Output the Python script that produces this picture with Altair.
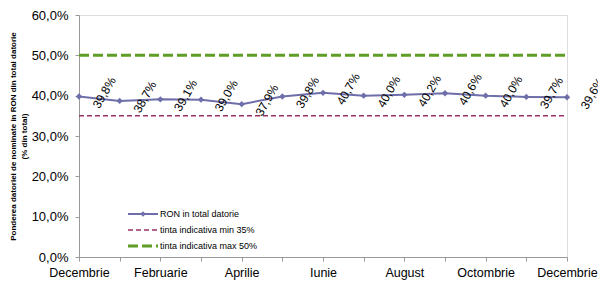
import altair as alt
import pandas as pd

months = ["Decembrie", "Ianuarie", "Februarie", "Martie", "Aprilie", "Mai", "Iunie",
          "Iulie", "August", "Septembrie", "Octombrie", "Noiembrie", "Decembrie"]
ron_share = [39.8, 38.7, 39.1, 39.0, 37.9, 39.8, 40.7, 40.0, 40.2, 40.6, 40.0, 39.7, 39.6]
target_min = 35
target_max = 50
legend_labels = ["RON in total datorie", "tinta indicativa min 35%", "tinta indicativa max 50%"]

df = pd.DataFrame({"i": list(range(len(ron_share))), "v": ron_share, "m": months})
df["lbl"] = [f"{v:.1f}".replace(".", ",") + "%" for v in ron_share]
n = len(ron_share) - 1
refs = pd.DataFrame({"y": [target_min, target_max], "x": [0, 0], "x2": [n, n],
                     "name": ["min", "max"]})

FONT = "Liberation Sans"
LINE = "#6E6EAA"
MAROON = "#993366"
GREEN = "#5E9E26"

month_expr = "[" + ",".join(f"'{m}'" for m in months) + "]"

x = alt.X("i:Q", scale=alt.Scale(domain=[0, n], nice=False, zero=False),
          axis=alt.Axis(values=list(range(n + 1)), grid=False, domain=True,
                        domainColor="#999999", tickColor="#999999", tickSize=4,
                        labelExpr=f"datum.value % 2 == 0 ? {month_expr}[datum.value] : ''",
                        labelFont=FONT, labelFontSize=12.5, labelColor="#000000",
                        labelPadding=5, labelFlush=False, labelOverlap=False, title=None))
y = alt.Y("v:Q", scale=alt.Scale(domain=[0, 60], nice=False),
          axis=alt.Axis(values=[0, 10, 20, 30, 40, 50, 60], grid=False,
                        domainColor="#999999", tickColor="#999999", tickSize=4,
                        labelExpr="replace(format(datum.value, '.1f'), '.', ',') + '%'",
                        labelFont=FONT, labelFontSize=13, labelColor="#000000", labelPadding=7,
                        title=["Ponderea datoriei de nominate in RON  din total datorie", "(% din total)"],
                        titleFont=FONT, titleFontSize=8, titleFontWeight="bold",
                        titleColor="#000000", titlePadding=3, titleLineHeight=11))

base = alt.Chart(df)

rmin = alt.Chart(refs[refs.name == "min"]).mark_rule(
    color=MAROON, strokeWidth=1.5, strokeDash=[5, 3]).encode(
    x=alt.X("x:Q"), x2="x2:Q", y=alt.Y("y:Q"))
rmax = alt.Chart(refs[refs.name == "max"]).mark_rule(
    color=GREEN, strokeWidth=3, strokeDash=[10, 4]).encode(
    x=alt.X("x:Q"), x2="x2:Q", y=alt.Y("y:Q"))

line = base.mark_line(color=LINE, strokeWidth=2).encode(x=x, y=y)
pts = base.mark_point(shape="diamond", filled=True, color=LINE, size=40, opacity=1).encode(x="i:Q", y="v:Q")
labels = base.mark_text(font=FONT, fontSize=12, angle=300, dx=16, dy=20,
                        align="center", baseline="middle", color="#000000").encode(
    x="i:Q", y="v:Q", text="lbl:N")

one = pd.DataFrame({"k": [0]})
lg = alt.Chart(one)
lx0, lx1, tx = 49, 79, 81
rows = [199, 215, 231]
leg = [
    lg.mark_rule(color=LINE, strokeWidth=2).encode(x=alt.value(lx0), x2=alt.value(lx1), y=alt.value(rows[0])),
    lg.mark_point(shape="diamond", filled=True, color=LINE, size=30, opacity=1).encode(
        x=alt.value((lx0 + lx1) / 2), y=alt.value(rows[0])),
    lg.mark_rule(color=MAROON, strokeWidth=1.5, strokeDash=[5, 3]).encode(
        x=alt.value(lx0), x2=alt.value(lx1), y=alt.value(rows[1])),
    lg.mark_rule(color=GREEN, strokeWidth=3, strokeDash=[10, 4]).encode(
        x=alt.value(lx0), x2=alt.value(lx1), y=alt.value(rows[2])),
]
for r, t in zip(rows, legend_labels):
    leg.append(lg.mark_text(text=t, font=FONT, fontSize=9, align="left", baseline="middle",
                            color="#000000").encode(x=alt.value(tx), y=alt.value(r)))

chart = alt.layer(line, rmin, rmax, pts, labels, *leg).properties(
    width=488, height=242,
    autosize=alt.AutoSizeParams(type="none"),
    padding={"left": 71, "top": 7, "right": 31, "bottom": 25},
).configure_view(stroke=None).configure(background="#ffffff")

chart.save("out.html", embed_options={"renderer": "svg", "actions": False})
